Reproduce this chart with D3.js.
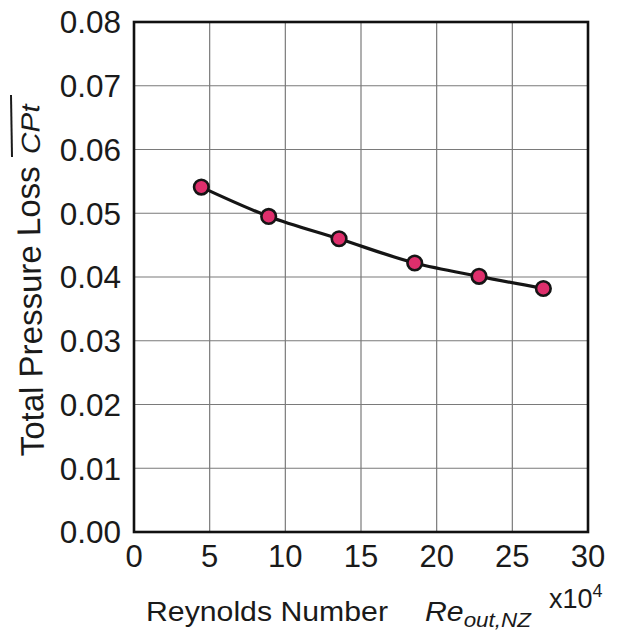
<!DOCTYPE html>
<html>
<head>
<meta charset="utf-8">
<script src="https://cdn.jsdelivr.net/npm/d3@7/dist/d3.min.js"></script>
<style>
  html, body { margin: 0; padding: 0; background: #fff; }
  svg { display: block; font-family: "Liberation Sans", Arial, sans-serif; }
</style>
</head>
<body>
<svg id="chart" width="624" height="636"></svg>
<script>
// Reynolds number (x10^4) and mean total pressure loss coefficient
const reynolds = [4.45, 8.9, 13.55, 18.55, 22.8, 27.05];
const pressureLoss = [0.0541, 0.0495, 0.0460, 0.0422, 0.0401, 0.0382];
const xTicks = [0, 5, 10, 15, 20, 25, 30];
const yTicks = [0.00, 0.01, 0.02, 0.03, 0.04, 0.05, 0.06, 0.07, 0.08];

const svg = d3.select("#chart");
const m = { left: 134, right: 588, top: 22, bottom: 532 };

const x = d3.scaleLinear().domain([0, 30]).range([m.left, m.right]);
const y = d3.scaleLinear().domain([0, 0.08]).range([m.bottom, m.top]);

// grid
svg.append("g")
  .selectAll("line")
  .data(xTicks.slice(1, -1))
  .join("line")
  .attr("x1", d => x(d)).attr("x2", d => x(d))
  .attr("y1", m.top).attr("y2", m.bottom)
  .attr("stroke", "#7a7a7a").attr("stroke-width", 1.2);

svg.append("g")
  .selectAll("line")
  .data(yTicks.slice(1, -1))
  .join("line")
  .attr("y1", d => y(d)).attr("y2", d => y(d))
  .attr("x1", m.left).attr("x2", m.right)
  .attr("stroke", "#7a7a7a").attr("stroke-width", 1.2);

// frame
svg.append("rect")
  .attr("x", m.left).attr("y", m.top)
  .attr("width", m.right - m.left).attr("height", m.bottom - m.top)
  .attr("fill", "none").attr("stroke", "#111").attr("stroke-width", 2.6);

// tick labels
svg.append("g")
  .selectAll("text")
  .data(yTicks)
  .join("text")
  .attr("x", 121).attr("y", d => y(d))
  .attr("dy", "0.36em")
  .attr("text-anchor", "end")
  .attr("font-size", 31.5)
  .attr("fill", "#1a1a1a")
  .text(d => d3.format(".2f")(d));

svg.append("g")
  .selectAll("text")
  .data(xTicks)
  .join("text")
  .attr("x", d => x(d)).attr("y", 567)
  .attr("text-anchor", "middle")
  .attr("font-size", 31)
  .attr("fill", "#1a1a1a")
  .text(d => d);

// x10^4 multiplier
const mult = svg.append("text")
  .attr("x", 549).attr("y", 608)
  .attr("font-size", 27)
  .attr("fill", "#1a1a1a");
mult.append("tspan").text("x10");
mult.append("tspan").attr("font-size", 18).attr("dy", -11).text("4");

// x axis title, slightly widened
const xt = svg.append("text")
  .attr("transform", "translate(146,621) scale(1.12,1)")
  .attr("font-size", 27)
  .attr("fill", "#1a1a1a");
xt.append("tspan").text("Reynolds Number");
xt.append("tspan").attr("x", (425 - 146) / 1.12).attr("font-style", "italic").text("Re");
xt.append("tspan").attr("font-style", "italic").attr("font-size", 20).attr("dy", 6).text("out,NZ");

// y axis title
svg.append("text")
  .attr("transform", "translate(44,456) rotate(-91)")
  .attr("font-size", 33)
  .attr("fill", "#1a1a1a")
  .text("Total Pressure Loss");

// mean loss coefficient symbol, with overline
svg.append("text")
  .attr("transform", "translate(40,154) rotate(-91) scale(1.15,1)")
  .attr("font-size", 26)
  .attr("font-style", "italic")
  .attr("fill", "#1a1a1a")
  .text("CPt");

svg.append("line")
  .attr("x1", 12).attr("x2", 11)
  .attr("y1", 157).attr("y2", 95)
  .attr("stroke", "#1a1a1a").attr("stroke-width", 2);

// data line and markers
const pts = reynolds.map((r, i) => [r, pressureLoss[i]]);
svg.append("path")
  .datum(pts)
  .attr("d", d3.line().x(d => x(d[0])).y(d => y(d[1])).curve(d3.curveMonotoneX))
  .attr("fill", "none").attr("stroke", "#151515").attr("stroke-width", 3.2);

svg.append("g")
  .selectAll("circle")
  .data(pts)
  .join("circle")
  .attr("cx", d => x(d[0])).attr("cy", d => y(d[1]))
  .attr("r", 7.3)
  .attr("fill", "#de2f6c")
  .attr("stroke", "#151515").attr("stroke-width", 2.6);
</script>
</body>
</html>
